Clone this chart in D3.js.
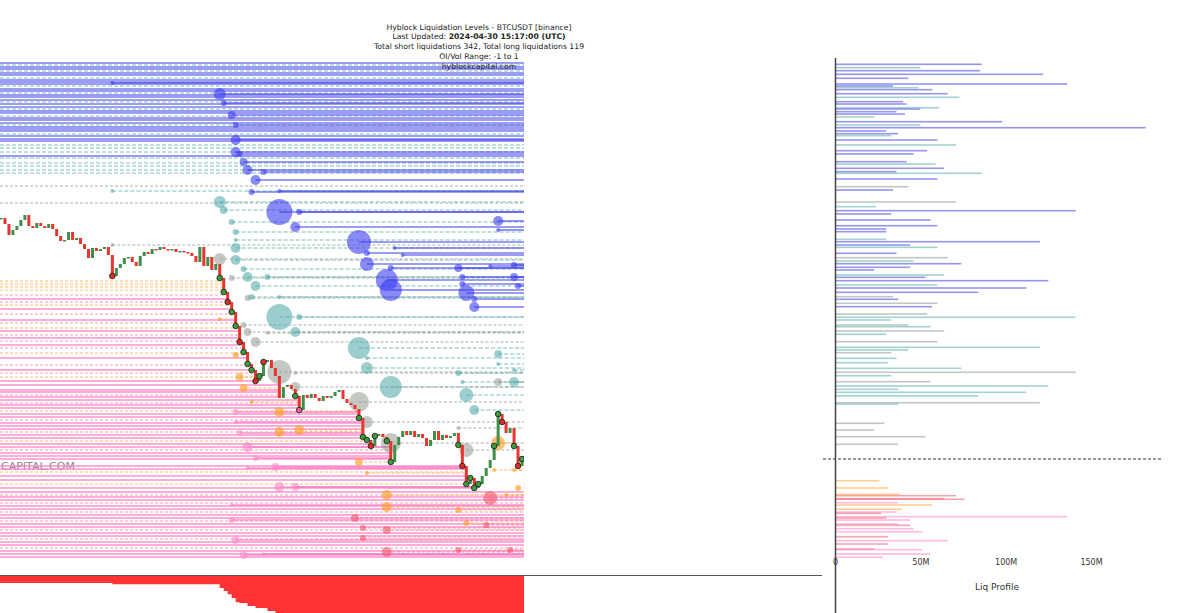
<!DOCTYPE html>
<html>
<head>
<meta charset="utf-8">
<script src="https://cdn.jsdelivr.net/npm/d3@7/dist/d3.min.js"></script>
<style>
body { margin: 0; background: #fff; }
svg { display: block; font-family: "Liberation Sans", Arial, sans-serif; }
</style>
</head>
<body>
<div id="chart"></div>
<script>
// BTCUSDT closes, one candle every ~4px
var closes = [
  64880, 64760, 64540, 64640, 64720, 64840, 64940, 64720, 64680, 64780, 64720, 64680,
  64760, 64660, 64520, 64420, 64440, 64600, 64440, 64480, 64360, 64260, 64080, 64280,
  64220, 64260, 64300, 64140, 63720, 63880, 63960, 64080, 64100, 64000, 63920, 64120,
  64200, 64160, 64260, 64240, 64300, 64260, 64240, 64260, 64200, 64220, 64200, 64180,
  64120, 64000, 64300, 63920, 64100, 63840, 63960, 63680, 63400, 63200, 63000, 62720,
  62400, 62200, 61960, 61840, 61620, 61720, 62000, 62040, 61880, 61720, 61280, 61500,
  61540, 61460, 61320, 61040, 61340, 61280, 61360, 61280, 61220, 61320, 61280, 61320,
  61400, 61440, 61260, 61180, 61140, 61060, 60880, 60500, 60440, 60320, 60520, 60560,
  60500, 60420, 60000, 60340, 60500, 60620, 60540, 60620, 60500, 60560, 60480, 60320,
  60440, 60620, 60440, 60540, 60480, 60520, 60580, 60340, 59920, 59560, 59680, 59480,
  59560, 59720, 59880, 60040, 60320, 60960, 60800, 60580, 60680, 60320, 59920, 60060
];

// short levels opened before the window: [price, tier]
var shortOld = [
  [67980,'b'],[67940,'t'],[67900,'b'],[67860,'b'],[67820,'t'],[67780,'b'],[67740,'b'],[67680,'t'],
  [67640,'b'],[67600,'b'],[67560,'b'],[67520,'t'],[67460,'b'],[67420,'b'],[67380,'t'],[67340,'b'],
  [67300,'b'],[67240,'b'],[67200,'t'],[67160,'b'],[67100,'b'],[67060,'t'],[67020,'b'],[66980,'b'],
  [66920,'t'],[66880,'b'],[66840,'b'],[66780,'b'],[66740,'t'],[66700,'b'],[66660,'b'],[66620,'b'],
  [66560,'t'],[66520,'b'],[66460,'b'],[66420,'b'],[66340,'t'],[66280,'t'],[66200,'t'],[66120,'b'],
  [66080,'t'],[65980,'t'],[65920,'t'],[65840,'t'],[65780,'t'],[65520,'g'],[65180,'g']
];

// short levels opened inside the window: [candle, price, size M, tier]
var shortNew = [
  [28,67580,3,'b'],[28,65420,3,'t'],[28,64340,3,'g'],
  [55,67360,28,'b'],[56,67180,7,'b'],[58,66940,12,'b'],[59,66740,7,'b'],[59,66440,19,'b'],
  [59,66200,19,'b'],[60,66160,7,'b'],[61,66000,12,'b'],[62,65840,19,'b'],[66,65800,7,'b'],
  [64,65640,19,'b'],[63,65400,7,'b'],[70,65420,3,'b'],
  [55,65200,28,'t'],[56,65040,12,'t'],[70,65000,129,'b'],[75,65000,7,'b'],[74,64700,19,'b'],
  [58,64800,7,'t'],[59,64600,7,'t'],[59,64440,3,'t'],[59,64280,19,'t'],[59,64040,19,'t'],
  [55,64060,28,'g'],[61,63860,7,'t'],[62,63700,19,'t'],[58,63680,7,'g'],[67,63700,7,'t'],
  [64,63520,19,'t'],[63,63300,7,'t'],[70,63300,3,'t'],
  [90,64400,110,'b'],[92,64180,7,'b'],[92,63960,37,'b'],[99,64280,3,'b'],[101,64140,3,'b'],
  [98,63880,7,'b'],[97,63640,93,'b'],[98,63440,93,'b'],
  [115,63880,12,'b'],[116,63700,7,'b'],[116,63560,7,'b'],[117,63380,49,'b'],[119,63260,7,'b'],
  [119,63100,19,'b'],[125,64820,19,'b'],[125,64640,3,'b'],[123,63920,3,'b'],[129,63940,7,'b'],
  [129,63700,12,'b'],[130,63520,7,'b'],
  [70,62900,129,'t'],[75,62900,7,'t'],[74,62600,19,'t'],[67,62580,3,'g'],[64,62400,19,'g'],
  [61,62740,7,'g'],[62,62600,12,'g'],[62,63280,7,'g'],
  [90,62280,93,'t'],[92,61880,28,'t'],[92,62080,3,'t'],[98,61500,93,'t'],
  [70,61800,110,'g'],[74,61780,3,'g'],[74,61500,19,'g'],[90,61200,77,'g'],[92,60800,28,'g'],
  [98,60380,77,'g'],
  [115,61780,7,'t'],[116,61600,3,'t'],[117,61340,37,'t'],[119,61040,19,'t'],[125,62160,12,'t'],
  [125,61960,3,'t'],[125,61600,12,'g'],[129,61600,19,'t'],[129,61840,3,'t'],[117,60240,37,'g'],
  [115,60680,3,'g']
];

// long levels opened before the window: [price, tier]
var longOld = [
  [63620,'o'],[63560,'o'],[63500,'o'],[63440,'o'],[63340,'r'],[63260,'p'],[63200,'r'],[63140,'o'],
  [63060,'p'],[62960,'r'],[62840,'p'],[62780,'r'],[62680,'o'],[62620,'p'],[62540,'r'],[62480,'p'],
  [62420,'r'],[62340,'p'],[62280,'r'],[62180,'o'],[62080,'p'],[61940,'r'],[61840,'p'],[61780,'r'],
  [61700,'o'],[61620,'p'],[61540,'p'],[61440,'p'],[61400,'p'],[61340,'r'],[61300,'p'],[61240,'p'],
  [61180,'r'],[61140,'p'],[61080,'p'],[61020,'o'],[60960,'p'],[60900,'p'],[60840,'r'],[60780,'p'],
  [60720,'p'],[60660,'p'],[60600,'r'],[60540,'p'],[60480,'p'],[60420,'o'],[60360,'p'],[60300,'p'],
  [60240,'r'],[60180,'p'],[60120,'p'],[60060,'p'],[59920,'p'],[59860,'p'],[59800,'o'],[59720,'p'],
  [59640,'p'],[59560,'o'],[59480,'p'],[59400,'p'],[59340,'r'],[59300,'p'],[59240,'p'],[59180,'r'],
  [59120,'p'],[59060,'p'],[59000,'r'],[58940,'p'],[58880,'p'],[58820,'r'],[58760,'p'],[58700,'p'],
  [58640,'r'],[58580,'p'],[58520,'p'],[58460,'r'],[58400,'p'],[58340,'p'],[58280,'r'],[58220,'p'],
  [58160,'p'],[58100,'p']
];

// long levels opened inside the window: [candle, price, size M, tier]
var longNew = [
  [55,62860,3,'o'],[59,62140,7,'o'],[60,61700,12,'o'],[61,61480,12,'o'],[63,61200,3,'o'],
  [70,61000,19,'o'],[70,60600,19,'o'],[75,60640,19,'o'],
  [59,61000,7,'p'],[59,60800,3,'p'],[60,60580,7,'p'],[62,60300,19,'p'],[64,60080,7,'p'],
  [69,59900,12,'p'],[70,59500,19,'p'],[74,59500,12,'p'],[62,59880,3,'p'],[58,59140,3,'p'],
  [58,58840,7,'p'],[59,58440,12,'p'],[61,58140,12,'p'],[66,58160,3,'p'],
  [90,60000,12,'o'],[92,59780,3,'o'],[89,58880,12,'r'],[91,58680,7,'r'],[91,58480,7,'r'],
  [97,58640,12,'r'],[97,58200,19,'r'],[97,59340,19,'o'],[97,59100,19,'o'],
  [115,59040,7,'o'],[117,58780,7,'o'],[122,58740,7,'r'],[123,59280,37,'r'],[127,59340,3,'o'],
  [115,58240,7,'r'],[128,58240,7,'r'],[125,60380,37,'o'],[124,59840,3,'o'],[129,59840,3,'o'],
  [130,59480,7,'o']
];

// liq profile (active levels): [price, size M, tier]
var profile = [
  [67954,86,'b'],[67886,50,'t'],[67826,85,'b'],[67754,122,'b'],[67674,43,'b'],[67560,136,'b'],
  [67520,34,'b'],[67486,49,'t'],[67446,57,'b'],[67366,66,'b'],[67294,73,'t'],[67206,40,'b'],
  [67160,42,'b'],[67086,61,'t'],[67060,50,'b'],[67006,36,'b'],[66960,41,'b'],[66900,23,'t'],
  [66806,98,'b'],[66740,50,'t'],[66686,182,'b'],[66620,30,'b'],[66566,37,'b'],[66526,33,'t'],
  [66440,60,'b'],[66340,71,'t'],[66226,54,'b'],[66160,46,'b'],[66006,42,'b'],[65960,59,'t'],
  [65874,64,'b'],[65806,36,'b'],[65774,86,'t'],[65660,60,'b'],[65506,43,'g'],[65440,34,'b'],
  [65200,71,'g'],[65106,24,'t'],[65026,141,'b'],[64960,33,'b'],[64840,56,'b'],[64726,60,'b'],
  [64660,30,'b'],[64606,30,'b'],[64454,30,'t'],[64406,120,'b'],[64340,44,'b'],[64294,60,'t'],
  [64174,36,'b'],[64086,66,'g'],[64020,46,'t'],[63966,74,'b'],[63894,44,'b'],[63840,23,'b'],
  [63740,64,'t'],[63694,53,'b'],[63626,125,'b'],[63540,60,'t'],[63480,112,'b'],[63394,84,'b'],
  [63306,34,'g'],[63254,37,'b'],[63174,60,'g'],[63106,57,'b'],[62960,54,'g'],[62894,141,'t'],
  [62840,33,'t'],[62740,43,'g'],[62706,56,'t'],[62620,64,'g'],[62554,30,'t'],[62406,60,'g'],
  [62294,120,'t'],[62240,43,'t'],[62186,33,'g'],[62074,36,'t'],[61986,31,'t'],[61874,74,'t'],
  [61794,141,'g'],[61726,33,'t'],[61606,56,'g'],[61520,125,'t'],[61454,37,'t'],[61394,112,'t'],
  [61320,84,'t'],[61186,120,'g'],[61160,37,'t'],[60774,29,'g'],[60640,23,'g'],[60506,53,'g'],
  [60354,37,'g'],
  [59626,26,'o'],[59480,31,'o'],[59354,38,'o'],[59326,71,'r'],[59266,64,'r'],[59254,76,'r'],
  [59186,37,'p'],[59140,57,'o'],[59054,39,'o'],[59000,36,'p'],[58974,27,'r'],[58906,136,'p'],
  [58880,30,'r'],[58840,44,'p'],[58760,37,'p'],[58734,44,'r'],[58666,46,'p'],[58606,51,'p'],
  [58506,31,'r'],[58426,66,'p'],[58360,31,'r'],[58260,23,'r'],[58246,51,'p'],[58160,56,'p'],
  [58094,28,'p']
];

// liquidation markers on candles: [candle, side]
var markers = [
  [28,'r'],[55,'g'],[56,'g'],[57,'r'],[58,'g'],[59,'g'],[60,'r'],[61,'g'],[62,'g'],[63,'g'],
  [64,'r'],[65,'g'],[66,'r'],[74,'g'],[75,'p'],[90,'g'],[91,'g'],[92,'g'],[93,'r'],[94,'g'],
  [97,'g'],[98,'g'],[115,'g'],[116,'r'],[117,'g'],[118,'g'],[119,'g'],[120,'g'],[124,'g'],
  [125,'g'],[126,'r'],[129,'g'],[130,'r'],[131,'g']
];

// lower panel, cumulative long liquidations (M), stepped
var lossIdx = [-1, 28, 55, 56, 57, 58, 59, 60, 62, 64, 67, 69, 132];
var lossVal = [11, 13, 19, 24, 29, 35, 42, 43, 48, 51, 56, 62, 62];

var profTicks = [0, 50, 100, 150];

var titleLines = [
  ['Hyblock Liquidation Levels - BTCUSDT [binance]', ''],
  ['Last Updated: ', '2024-04-30 15:17:00 (UTC)'],
  ['Total short liquidations 342, Total long liquidations 119', ''],
  ['OI/Vol Range: -1 to 1', ''],
  ['hyblockcapital.com', '']
];

var tiers = {
  b: {line: 'rgba(60,60,235,0.68)', dot: 'rgba(60,60,240,0.6)', bar: 'rgba(80,80,230,0.6)', dash: null, w: 1.6},
  t: {line: 'rgba(80,170,170,0.75)', dot: 'rgba(75,165,165,0.55)', bar: 'rgba(100,180,180,0.6)', dash: '4,2', w: 1},
  g: {line: 'rgba(140,152,140,0.75)', dot: 'rgba(145,155,145,0.55)', bar: 'rgba(160,170,160,0.65)', dash: '3,2', w: 1},
  o: {line: 'rgba(255,165,50,0.75)', dot: 'rgba(255,160,40,0.65)', bar: 'rgba(255,180,80,0.65)', dash: '3,2', w: 1},
  p: {line: 'rgba(255,120,195,0.6)', dot: 'rgba(255,135,200,0.6)', bar: 'rgba(255,140,200,0.6)', dash: null, w: 1.9},
  r: {line: 'rgba(240,95,115,0.6)', dot: 'rgba(240,85,105,0.6)', bar: 'rgba(240,105,120,0.6)', dash: '3,2', w: 1.1}
};

var W = 1200, H = 613, xEnd = 524;

var svg = d3.select('#chart').append('svg')
    .attr('width', W)
    .attr('height', H);

var x = d3.scaleLinear().domain([0, closes.length - 1]).range([1, 522]);
var y = d3.scaleLinear().domain([58040, 68000]).range([560, 62]);
var r = d3.scaleSqrt().domain([0, 150]).range([0, 14]);
var px = d3.scaleLinear().domain([0, 150]).range([835, 1091]);
var yLoss = d3.scaleLinear().domain([0, 100]).range([576, 638.5]);

svg.append('defs').append('clipPath').attr('id', 'clip')
    .append('rect').attr('x', 0).attr('y', 0).attr('width', xEnd).attr('height', H);

// watermark (only its tail is inside the frame)
svg.append('text')
    .attr('x', 1).attr('y', 470)
    .style('font-family', '"DejaVu Sans", Verdana, sans-serif')
    .style('font-size', '11px')
    .attr('fill', '#8c8c8c')
    .text('CAPITAL.COM');

// a long is liquidated when price closes at or below it
function crossLong(start, price) {
    for (var i = Math.max(start + 1, 0); i < closes.length; i++) {
        if (closes[i] <= price) return i;
    }
    return null;
}

var levels = [];
shortOld.forEach(function(d) { levels.push({start: -1, price: d[0], tier: d[1], end: null}); });
longOld.forEach(function(d) { levels.push({start: -1, price: d[0], tier: d[1], end: crossLong(-1, d[0])}); });
shortNew.forEach(function(d) { levels.push({start: d[0], price: d[1], size: d[2], tier: d[3], end: null}); });
longNew.forEach(function(d) { levels.push({start: d[0], price: d[1], size: d[2], tier: d[3], end: crossLong(d[0], d[1])}); });

var main = svg.append('g').attr('clip-path', 'url(#clip)');

main.append('g').selectAll('line')
    .data(levels)
    .enter().append('line')
    .attr('x1', function(d) { return d.start < 0 ? 0 : x(d.start); })
    .attr('x2', function(d) { return d.end == null ? xEnd : x(d.end); })
    .attr('y1', function(d) { return y(d.price); })
    .attr('y2', function(d) { return y(d.price); })
    .attr('stroke', function(d) { return tiers[d.tier].line; })
    .attr('stroke-width', function(d) { return tiers[d.tier].w; })
    .attr('stroke-dasharray', function(d) { return tiers[d.tier].dash; });

main.append('g').selectAll('circle')
    .data(levels.filter(function(d) { return d.start >= 0; }))
    .enter().append('circle')
    .attr('cx', function(d) { return x(d.start); })
    .attr('cy', function(d) { return y(d.price); })
    .attr('r', function(d) { return r(d.size); })
    .attr('fill', function(d) { return tiers[d.tier].dot; });

// candles
function openOf(i) { return i ? closes[i - 1] : closes[i]; }
main.append('g').selectAll('rect')
    .data(closes)
    .enter().append('rect')
    .attr('x', function(d, i) { return x(i) - 1.5; })
    .attr('width', 3)
    .attr('y', function(d, i) { return y(Math.max(openOf(i), d)); })
    .attr('height', function(d, i) { return Math.max(1.5, Math.abs(y(openOf(i)) - y(d))); })
    .attr('fill', function(d, i) { return d >= openOf(i) ? '#3d8f4a' : '#e8352f'; });

main.append('g').selectAll('circle')
    .data(markers)
    .enter().append('circle')
    .attr('cx', function(d) { return x(d[0]); })
    .attr('cy', function(d) { return y(closes[d[0]]); })
    .attr('r', 2.8)
    .attr('fill', function(d) { return d[1] == 'g' ? '#3f9a3f' : d[1] == 'r' ? '#e02a2a' : '#f060a0'; })
    .attr('stroke', '#1c2a1c')
    .attr('stroke-width', 0.9);

// lower panel
var area = d3.area()
    .x(function(d) { return x(d); })
    .y0(576)
    .y1(function(d, i) { return yLoss(lossVal[i]); })
    .curve(d3.curveStepAfter);

main.append('path')
    .attr('d', area(lossIdx))
    .attr('fill', '#ff3333');

svg.append('line')
    .attr('x1', 0).attr('x2', 822)
    .attr('y1', 575.5).attr('y2', 575.5)
    .attr('stroke', '#555')
    .attr('stroke-width', 1);

// liq profile
var prof = svg.append('g');
prof.selectAll('rect')
    .data(profile)
    .enter().append('rect')
    .attr('x', 835)
    .attr('y', function(d) { return y(d[0]) - 0.8; })
    .attr('width', function(d) { return px(d[1]) - 835; })
    .attr('height', 1.6)
    .attr('fill', function(d) { return tiers[d[2]].bar; });

prof.append('line')
    .attr('x1', 823).attr('x2', 1162)
    .attr('y1', y(closes[closes.length - 1])).attr('y2', y(closes[closes.length - 1]))
    .attr('stroke', '#333')
    .attr('stroke-dasharray', '3,2');

prof.append('line')
    .attr('x1', 835.5).attr('x2', 835.5)
    .attr('y1', 58).attr('y2', H)
    .attr('stroke', '#444')
    .attr('stroke-width', 1.5);

var ax = prof.append('g')
    .attr('transform', 'translate(0,556)')
    .call(d3.axisBottom(px).tickValues(profTicks).tickSize(0).tickPadding(3)
        .tickFormat(function(d) { return d ? d + 'M' : '0'; }));
ax.select('.domain').remove();
ax.selectAll('text')
    .style('font-family', '"DejaVu Sans", Verdana, sans-serif')
    .style('font-size', '8px')
    .attr('fill', '#333');

prof.append('text')
    .attr('x', 997).attr('y', 590)
    .attr('text-anchor', 'middle')
    .style('font-family', '"DejaVu Sans", Verdana, sans-serif')
    .style('font-size', '9px')
    .attr('fill', '#333')
    .text('Liq Profile');

// title block
var title = svg.append('g')
    .style('font-family', '"DejaVu Sans", Verdana, sans-serif')
    .style('font-size', '7.7px')
    .attr('fill', '#222');
titleLines.forEach(function(t, i) {
    var tx = title.append('text')
        .attr('x', 479).attr('y', 29.5 + i * 9.8)
        .attr('text-anchor', 'middle');
    tx.append('tspan').text(t[0]);
    if (t[1]) tx.append('tspan').attr('font-weight', 'bold').text(t[1]);
});
</script>
</body>
</html>
